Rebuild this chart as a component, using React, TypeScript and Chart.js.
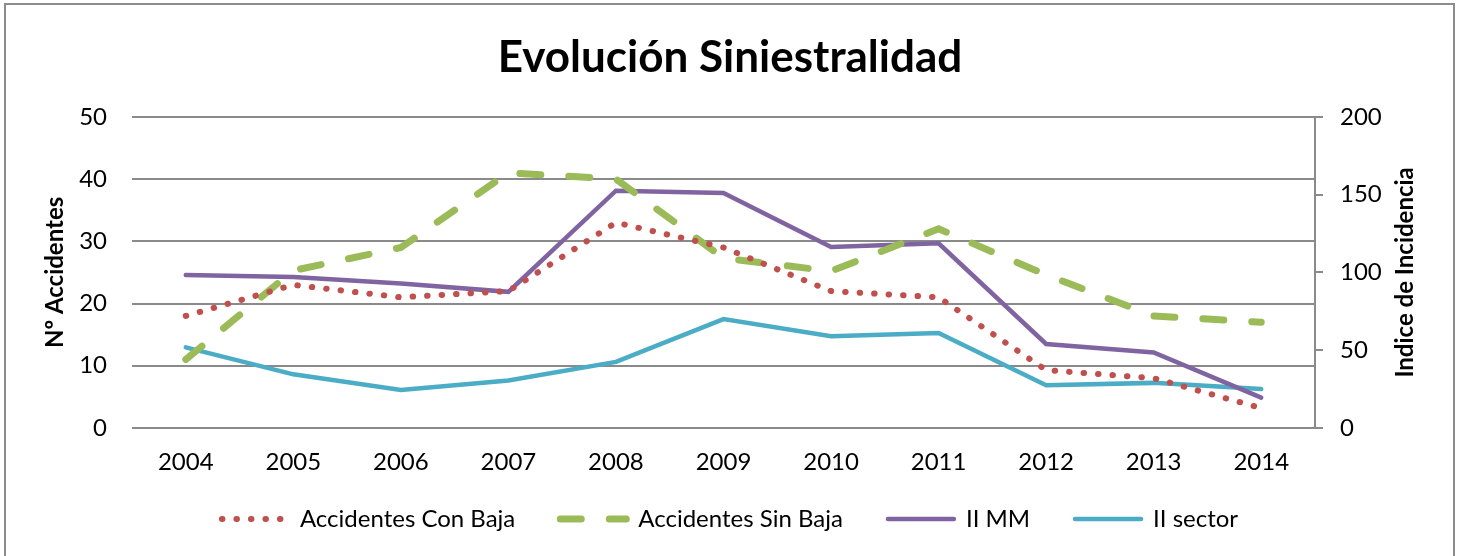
import React, { useEffect, useRef } from "react";
import { Chart, registerables } from "chart.js";

Chart.register(...registerables);

const TITLE = "Evolución Siniestralidad";
const LEFT_TITLE = "Nº Accidentes";
const RIGHT_TITLE = "Indice de Incidencia";

const years = ["2004", "2005", "2006", "2007", "2008", "2009", "2010", "2011", "2012", "2013", "2014"];
const accidentesConBaja = [18, 23, 21, 22, 33, 29, 22, 21, 9.3, 8, 3.2];
const accidentesSinBaja = [11, 25.3, 29, 41, 40, 27.3, 25.2, 32, 24.6, 18, 17];
const iiMM = [98.3, 97, 92.8, 87.5, 152.5, 151, 116.3, 118.7, 54, 48.5, 19.5];
const iiSector = [51.8, 34.5, 24.5, 30.5, 42.5, 70, 59, 61, 27.5, 29, 25];

const GRID = "#8a8a8a";
const FONT = 24;

const rightTitlePlugin = {
  id: "rightTitle",
  afterDraw(chart: any) {
    const { ctx, chartArea } = chart;
    const s = chart.scales.y1;
    ctx.save();
    ctx.translate(s.right - 55, (chartArea.top + chartArea.bottom) / 2);
    ctx.rotate(-Math.PI / 2);
    ctx.font = `bold ${FONT}px Lato`;
    ctx.fillStyle = "#000";
    ctx.textAlign = "center";
    ctx.textBaseline = "middle";
    ctx.fillText(RIGHT_TITLE, 0, 0);
    ctx.restore();
  },
};

export default function App() {
  const ref = useRef<HTMLCanvasElement | null>(null);

  useEffect(() => {
    if (!ref.current) return;
    Chart.defaults.font.family = "Lato";
    Chart.defaults.color = "#000";
    const chart = new Chart(ref.current, {
      type: "line",
      data: {
        labels: years,
        datasets: [
          {
            label: "Accidentes Con Baja",
            data: accidentesConBaja,
            yAxisID: "y",
            borderColor: "#C0504D",
            backgroundColor: "#C0504D",
            borderWidth: 6,
            borderDash: [0.5, 14],
            borderCapStyle: "round",
            pointRadius: 0,
            tension: 0,
          },
          {
            label: "Accidentes Sin Baja",
            data: accidentesSinBaja,
            yAxisID: "y",
            borderColor: "#9BBB59",
            backgroundColor: "#9BBB59",
            borderWidth: 7,
            borderDash: [21, 28],
            borderCapStyle: "round",
            pointRadius: 0,
            tension: 0,
          },
          {
            label: "II MM",
            data: iiMM,
            yAxisID: "y1",
            borderColor: "#8064A2",
            backgroundColor: "#8064A2",
            borderWidth: 4.5,
            borderCapStyle: "round",
            pointRadius: 0,
            tension: 0,
          },
          {
            label: "II sector",
            data: iiSector,
            yAxisID: "y1",
            borderColor: "#4BACC6",
            backgroundColor: "#4BACC6",
            borderWidth: 4.5,
            borderCapStyle: "round",
            pointRadius: 0,
            tension: 0,
          },
        ],
      },
      options: {
        responsive: false,
        animation: false,
        layout: { padding: { left: 0, right: 0, top: 0, bottom: 15 } },
        plugins: {
          title: {
            display: true,
            text: TITLE,
            color: "#000",
            font: { size: 44, weight: "bold", family: "Lato" },
            padding: { top: 31, bottom: 33 },
          },
          legend: {
            position: "bottom",
            labels: {
              usePointStyle: true,
              pointStyle: "line",
              pointStyleWidth: 66,
              padding: 45,
              color: "#000",
              font: { size: FONT, family: "Lato" },
              generateLabels(chart: any) {
                const items = Chart.defaults.plugins.legend.labels.generateLabels(chart);
                return items.map((it: any) => {
                  const ds: any = chart.data.datasets[it.datasetIndex];
                  return {
                    ...it,
                    lineDash: ds.borderDash || [],
                    lineCap: ds.borderCapStyle || "butt",
                    lineWidth: ds.borderWidth,
                    strokeStyle: ds.borderColor,
                    fillStyle: ds.borderColor,
                    pointStyle: "line",
                  };
                });
              },
            },
          },
          tooltip: { enabled: false },
        },
        scales: {
          x: {
            offset: true,
            grid: { display: false },
            border: { display: false },
            ticks: { font: { size: FONT }, color: "#000", padding: -49, mirror: true },
            afterFit(scale: any) {
              scale.height = 34;
            },
          },
          y: {
            position: "left",
            min: 0,
            max: 50,
            ticks: { stepSize: 10, font: { size: FONT }, color: "#000", padding: 25 },
            grid: { color: GRID, lineWidth: 2, drawTicks: false },
            border: { display: false },
            title: {
              display: true,
              text: LEFT_TITLE,
              color: "#000",
              font: { size: FONT, weight: "bold" },
              padding: { top: 41, bottom: 0 },
            },
            afterFit(scale: any) {
              scale.width = 132;
            },
          },
          y1: {
            position: "right",
            min: 0,
            max: 200,
            ticks: { stepSize: 50, font: { size: FONT }, color: "#000", padding: 17 },
            grid: { drawOnChartArea: false, drawTicks: true, tickLength: 8, color: GRID, lineWidth: 2 },
            border: { display: true, color: GRID, width: 2 },
            afterFit(scale: any) {
              scale.width = 145;
            },
          },
        },
      },
      plugins: [rightTitlePlugin],
    });
    return () => chart.destroy();
  }, []);

  return (
    <div style={{ position: "fixed", left: 0, top: 0, width: 1460, height: 556, background: "#fff", overflow: "hidden" }}>
      <canvas ref={ref} width={1460} height={556} style={{ position: "absolute", left: 0, top: 0, width: 1460, height: 556 }} />
      <div
        style={{
          position: "absolute",
          left: 4,
          top: 3,
          width: 1451,
          height: 570,
          border: "2px solid #8c8c8c",
          boxSizing: "border-box",
          pointerEvents: "none",
        }}
      />
    </div>
  );
}
